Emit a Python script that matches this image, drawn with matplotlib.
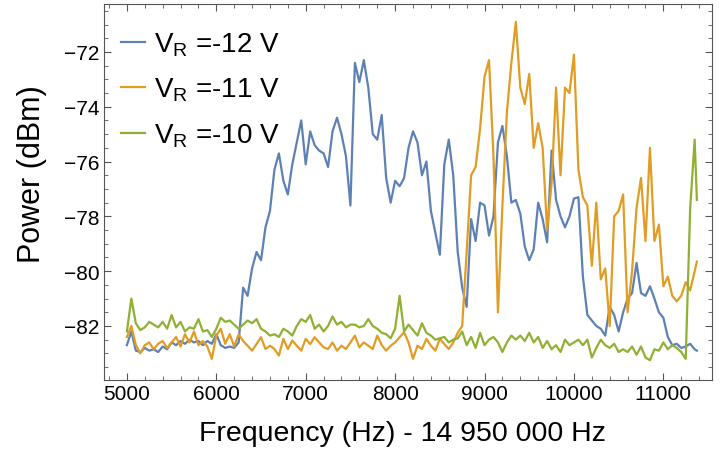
import numpy as np
import matplotlib
matplotlib.use("Agg")
import matplotlib.pyplot as plt
from matplotlib.ticker import MultipleLocator

plt.rcParams['font.family'] = ['Liberation Sans', 'DejaVu Sans']
plt.rcParams['mathtext.default'] = 'regular'

# frequency offset from 14 950 000 Hz
freq = list(range(5000, 11351, 50)) + [11375]

# V_R = -12 V
p_12 = [-82.7, -82.2, -82.9, -82.95, -82.8, -82.9, -82.85, -82.95, -82.75, -82.85,
        -82.6, -82.7, -82.55, -82.65, -82.5, -82.6, -82.55, -82.7, -82.55, -82.65,
        -82.3, -82.7, -82.8, -82.75, -82.8, -82.6, -80.6, -80.9, -79.9, -79.3,
        -79.6, -78.4, -77.8, -76.3, -75.7, -76.7, -77.2, -76.1, -75.3, -74.5,
        -76.1, -74.9, -75.4, -75.6, -75.7, -76.2, -74.9, -74.4, -75.0, -75.8,
        -77.6, -72.4, -73.1, -72.3, -73.3, -75.0, -75.2, -74.3, -76.6, -77.5,
        -76.7, -76.9, -76.6, -75.5, -74.9, -75.3, -76.5, -76.0, -77.8, -78.6,
        -79.4, -76.1, -75.2, -76.5, -79.3, -80.6, -81.3, -78.1, -78.9, -77.5,
        -77.6, -78.7, -78.0, -75.3, -74.7, -75.8, -77.5, -77.4, -77.9, -79.1,
        -79.6, -79.2, -77.5, -78.1, -78.95, -75.6, -77.4, -78.0, -78.4, -78.0,
        -77.35, -77.3, -80.2, -81.6, -81.8, -82.0, -82.1, -82.35, -81.3, -81.6,
        -82.2, -81.5, -81.0, -80.8, -79.7, -80.8, -80.9, -80.55, -81.0, -81.5,
        -81.7, -82.4, -82.7, -82.65, -82.8, -82.75, -82.65, -82.85, -82.9]

# V_R = -11 V
p_11 = [-82.4, -82.0, -82.7, -83.0, -82.7, -82.6, -82.85, -82.65, -82.55, -82.8,
        -82.6, -82.4, -82.75, -82.3, -82.6, -82.2, -82.7, -82.55, -82.75, -83.2,
        -82.35, -82.1, -82.65, -82.3, -82.75, -82.3, -82.55, -82.72, -82.9, -82.66,
        -82.41, -82.84, -82.72, -82.84, -83.08, -82.47, -82.84, -82.53, -82.72, -82.9,
        -82.47, -82.66, -82.41, -82.6, -82.78, -82.84, -82.6, -82.9, -82.72, -82.84,
        -82.6, -82.35, -82.78, -82.6, -82.72, -82.84, -82.35, -82.7, -82.9, -82.72,
        -82.6, -82.41, -82.23, -82.6, -83.2, -82.72, -82.84, -82.47, -82.72, -82.9,
        -82.47, -82.66, -82.84, -82.6, -82.25, -82.0, -79.3, -76.5, -76.2, -74.8,
        -72.9, -72.3, -75.8, -81.5, -77.6, -74.2, -72.4, -70.9, -73.3, -73.9,
        -72.8, -75.5, -74.6, -75.5, -78.5, -76.8, -73.3, -76.5, -73.3, -73.5,
        -72.1, -76.3, -77.3, -77.6, -79.8, -77.5, -80.3, -79.9, -82.0, -78.0,
        -77.8, -77.2, -81.5, -80.0, -77.7, -76.6, -78.9, -75.5, -78.9, -78.3,
        -80.55, -80.2, -80.9, -81.1, -80.9, -80.4, -80.7, -80.0, -79.65]

# V_R = -10 V
p_10 = [-82.2, -81.0, -81.9, -82.15, -82.05, -81.85, -81.95, -82.05, -81.85, -82.1,
        -81.6, -82.05, -81.85, -82.2, -82.05, -82.1, -81.75, -82.2, -82.15, -82.4,
        -82.1, -81.7, -81.85, -81.8, -81.95, -82.1, -81.95, -81.8, -81.9, -81.75,
        -82.1, -82.2, -82.35, -82.3, -82.4, -82.1, -82.2, -82.35, -82.0, -81.75,
        -81.85, -81.6, -82.1, -81.95, -82.2, -82.0, -81.65, -81.95, -81.85, -82.05,
        -81.95, -81.95, -82.05, -82.0, -81.75, -82.0, -82.1, -82.25, -82.3, -82.45,
        -82.1, -80.9, -82.2, -81.95, -82.15, -82.35, -81.9, -82.25, -82.35, -82.5,
        -82.45, -82.4, -82.6, -82.5, -82.45, -82.2, -82.7, -82.4, -82.8, -82.25,
        -82.7, -82.5, -82.4, -82.6, -82.95, -82.6, -82.35, -82.5, -82.35, -82.55,
        -82.25, -82.6, -82.4, -82.8, -82.55, -82.85, -82.7, -82.95, -82.5, -82.7,
        -82.6, -82.5, -82.7, -82.5, -83.15, -82.8, -82.5, -82.7, -82.8, -82.65,
        -82.95, -82.85, -82.95, -82.75, -83.05, -82.75, -83.15, -83.25, -82.85, -82.9,
        -82.6, -82.85, -82.7, -82.8, -82.95, -83.2, -77.7, -75.2, -77.4]

labels = ['V$_R$ =-12 V', 'V$_R$ =-11 V', 'V$_R$ =-10 V']
colors = ['#5E81B5', '#E19C24', '#8FB032']

fig = plt.figure(figsize=(7.23, 4.52), dpi=100)
ax = fig.add_axes([104/723, 1 - 380.7/452, 608/723, 375.7/452])

for vals, lab, c in zip([p_12, p_11, p_10], labels, colors):
    ax.plot(freq, vals, color=c, lw=1.6, label=lab)

ax.set_xlim(4744, 11544)
ax.set_ylim(-83.96, -70.25)
ax.xaxis.set_major_locator(MultipleLocator(1000))
ax.xaxis.set_minor_locator(MultipleLocator(200))
ax.yaxis.set_major_locator(MultipleLocator(2))
ax.yaxis.set_minor_locator(MultipleLocator(0.5))
ax.tick_params(which='both', direction='in', top=True, right=True,
               color='#555555', labelsize=15, pad=3)
ax.tick_params(which='major', length=5, width=0.8)
ax.tick_params(which='minor', length=3, width=0.6)
for s in ax.spines.values():
    s.set_color('#555555')
    s.set_linewidth(0.8)

ax.set_xlabel('Frequency (Hz) - 14 950 000 Hz', fontsize=20.5)
ax.set_ylabel('Power (dBm)', fontsize=22)
ax.xaxis.set_label_coords(0.491, -0.108)
ax.yaxis.set_label_coords(-0.094, 0.55)

ax.legend(loc='upper left', bbox_to_anchor=(0.028, 0.93), frameon=False,
          fontsize=20, handlelength=0.85, handletextpad=0.35,
          labelspacing=0.65, borderaxespad=0, borderpad=0)

fig.savefig('out.png', dpi=100)
